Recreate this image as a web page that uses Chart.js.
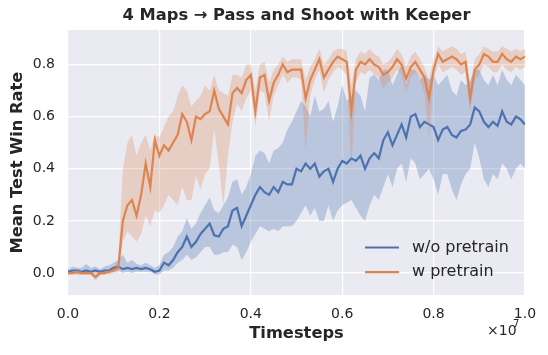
<!DOCTYPE html>
<html>
<head>
<meta charset="utf-8">
<script src="https://cdn.jsdelivr.net/npm/chart.js@4.4.1/dist/chart.umd.min.js"></script>
<style>
  html, body { margin: 0; padding: 0; background: #fff; }
  #wrap { width: 548px; height: 355px; position: relative; }
</style>
</head>
<body>
<div id="wrap"><canvas id="winRateChart" width="548" height="355"></canvas></div>
<script>
// timesteps in units of 1e7
const timesteps = [
  0.00, 0.01, 0.02, 0.03, 0.04, 0.05, 0.06, 0.07, 0.08, 0.09,
  0.10, 0.11, 0.12, 0.13, 0.14, 0.15, 0.16, 0.17, 0.18, 0.19,
  0.20, 0.21, 0.22, 0.23, 0.24, 0.25, 0.26, 0.27, 0.28, 0.29,
  0.30, 0.31, 0.32, 0.33, 0.34, 0.35, 0.36, 0.37, 0.38, 0.39,
  0.40, 0.41, 0.42, 0.43, 0.44, 0.45, 0.46, 0.47, 0.48, 0.49,
  0.50, 0.51, 0.52, 0.53, 0.54, 0.55, 0.56, 0.57, 0.58, 0.59,
  0.60, 0.61, 0.62, 0.63, 0.64, 0.65, 0.66, 0.67, 0.68, 0.69,
  0.70, 0.71, 0.72, 0.73, 0.74, 0.75, 0.76, 0.77, 0.78, 0.79,
  0.80, 0.81, 0.82, 0.83, 0.84, 0.85, 0.86, 0.87, 0.88, 0.89,
  0.90, 0.91, 0.92, 0.93, 0.94, 0.95, 0.96, 0.97, 0.98, 0.99,
  1.00
];

// w/o pretrain (blue)
const noPretrainMean = [
  0.005, 0.010, 0.010, 0.005, 0.010, 0.005, 0.010, 0.005, 0.010, 0.010,
  0.020, 0.025, 0.015, 0.020, 0.015, 0.020, 0.015, 0.020, 0.015, 0.005,
  0.010, 0.040, 0.030, 0.050, 0.080, 0.100, 0.140, 0.100, 0.120, 0.150,
  0.170, 0.190, 0.145, 0.140, 0.170, 0.180, 0.240, 0.250, 0.180, 0.220,
  0.260, 0.300, 0.330, 0.310, 0.300, 0.330, 0.310, 0.350, 0.340, 0.340,
  0.400, 0.390, 0.420, 0.400, 0.420, 0.370, 0.390, 0.400, 0.350, 0.400,
  0.430, 0.420, 0.440, 0.430, 0.450, 0.400, 0.440, 0.460, 0.440, 0.510,
  0.540, 0.490, 0.530, 0.570, 0.520, 0.600, 0.610, 0.560, 0.580, 0.570,
  0.560, 0.510, 0.550, 0.560, 0.530, 0.520, 0.545, 0.550, 0.570, 0.635,
  0.620, 0.580, 0.560, 0.580, 0.565, 0.620, 0.580, 0.570, 0.600, 0.590,
  0.570
];
const noPretrainLow = [
  -0.005, 0.000, -0.005, -0.005, -0.005, -0.005, 0.000, -0.005, 0.000, 0.000,
  0.005, 0.010, 0.000, 0.005, 0.000, 0.005, 0.005, 0.005, 0.005, -0.005,
  -0.005, 0.010, 0.010, 0.020, 0.040, 0.050, 0.070, 0.050, 0.060, 0.080,
  0.100, 0.100, 0.070, 0.070, 0.080, 0.080, 0.110, 0.100, 0.050, 0.080,
  0.120, 0.150, 0.180, 0.170, 0.160, 0.170, 0.160, 0.180, 0.180, 0.180,
  0.200, 0.230, 0.260, 0.220, 0.250, 0.200, 0.200, 0.260, 0.200, 0.240,
  0.260, 0.270, 0.280, 0.250, 0.220, 0.200, 0.260, 0.300, 0.280, 0.330,
  0.380, 0.330, 0.400, 0.420, 0.350, 0.440, 0.420, 0.360, 0.380, 0.400,
  0.360, 0.300, 0.380, 0.380, 0.320, 0.280, 0.340, 0.380, 0.400, 0.500,
  0.440, 0.360, 0.330, 0.380, 0.360, 0.420, 0.400, 0.360, 0.400, 0.420,
  0.400
];
const noPretrainHigh = [
  0.015, 0.025, 0.020, 0.020, 0.035, 0.020, 0.025, 0.015, 0.025, 0.030,
  0.040, 0.050, 0.070, 0.040, 0.050, 0.035, 0.030, 0.040, 0.030, 0.020,
  0.030, 0.070, 0.080, 0.100, 0.140, 0.160, 0.210, 0.170, 0.190, 0.230,
  0.260, 0.290, 0.240, 0.230, 0.260, 0.290, 0.350, 0.360, 0.300, 0.330,
  0.380, 0.450, 0.470, 0.460, 0.420, 0.470, 0.480, 0.500, 0.550, 0.580,
  0.620, 0.660, 0.640, 0.600, 0.680, 0.620, 0.630, 0.660, 0.580, 0.640,
  0.720, 0.660, 0.680, 0.700, 0.680, 0.620, 0.750, 0.760, 0.740, 0.780,
  0.780, 0.720, 0.760, 0.800, 0.720, 0.780, 0.780, 0.740, 0.760, 0.740,
  0.760, 0.720, 0.740, 0.760, 0.700, 0.680, 0.740, 0.720, 0.740, 0.780,
  0.780, 0.740, 0.720, 0.760, 0.720, 0.780, 0.740, 0.720, 0.760, 0.740,
  0.720
];

// w pretrain (orange)
const pretrainMean = [
  0.000, 0.000, 0.005, 0.000, 0.000, 0.000, -0.015, 0.000, 0.000, 0.005,
  0.010, 0.020, 0.200, 0.260, 0.280, 0.220, 0.300, 0.420, 0.330, 0.510,
  0.450, 0.490, 0.470, 0.500, 0.530, 0.610, 0.580, 0.510, 0.600, 0.590,
  0.610, 0.620, 0.700, 0.630, 0.600, 0.570, 0.690, 0.710, 0.690, 0.740,
  0.760, 0.620, 0.750, 0.760, 0.660, 0.730, 0.760, 0.800, 0.770, 0.780,
  0.780, 0.780, 0.670, 0.740, 0.780, 0.820, 0.750, 0.780, 0.810, 0.830,
  0.820, 0.810, 0.620, 0.780, 0.810, 0.800, 0.820, 0.800, 0.790, 0.760,
  0.770, 0.790, 0.820, 0.800, 0.745, 0.790, 0.810, 0.780, 0.750, 0.670,
  0.780, 0.840, 0.810, 0.820, 0.830, 0.820, 0.800, 0.810, 0.670, 0.780,
  0.800, 0.840, 0.830, 0.810, 0.810, 0.840, 0.820, 0.810, 0.830, 0.820,
  0.830
];
const pretrainLow = [
  -0.005, -0.005, -0.005, -0.005, -0.005, -0.005, -0.030, -0.010, -0.005, -0.005,
  0.000, 0.000, 0.120, 0.160, 0.140, 0.120, 0.150, 0.220, 0.180, 0.240,
  0.230, 0.260, 0.300, 0.280, 0.260, 0.330, 0.280, 0.280, 0.370, 0.320,
  0.380, 0.400, 0.550, 0.420, 0.260, 0.450, 0.580, 0.650, 0.620, 0.670,
  0.700, 0.560, 0.700, 0.690, 0.580, 0.680, 0.720, 0.760, 0.730, 0.750,
  0.750, 0.740, 0.470, 0.680, 0.740, 0.780, 0.690, 0.740, 0.770, 0.790,
  0.780, 0.760, 0.400, 0.730, 0.770, 0.760, 0.780, 0.760, 0.750, 0.710,
  0.730, 0.750, 0.780, 0.760, 0.690, 0.750, 0.770, 0.740, 0.690, 0.520,
  0.740, 0.800, 0.770, 0.780, 0.790, 0.780, 0.760, 0.770, 0.620, 0.740,
  0.760, 0.800, 0.790, 0.770, 0.770, 0.800, 0.780, 0.770, 0.790, 0.780,
  0.790
];
const pretrainHigh = [
  0.005, 0.005, 0.010, 0.005, 0.005, 0.005, 0.000, 0.005, 0.005, 0.010,
  0.020, 0.050, 0.400, 0.500, 0.530, 0.450, 0.500, 0.530, 0.470, 0.530,
  0.520, 0.560, 0.600, 0.620, 0.680, 0.720, 0.700, 0.640, 0.660, 0.680,
  0.720, 0.700, 0.760, 0.700, 0.690, 0.680, 0.760, 0.760, 0.750, 0.800,
  0.800, 0.700, 0.800, 0.810, 0.730, 0.780, 0.800, 0.830, 0.810, 0.820,
  0.820, 0.820, 0.740, 0.790, 0.820, 0.860, 0.800, 0.820, 0.850, 0.860,
  0.860, 0.850, 0.720, 0.820, 0.850, 0.840, 0.860, 0.840, 0.830, 0.800,
  0.810, 0.830, 0.860, 0.840, 0.790, 0.830, 0.850, 0.820, 0.790, 0.740,
  0.820, 0.870, 0.850, 0.860, 0.870, 0.860, 0.840, 0.850, 0.720, 0.820,
  0.840, 0.870, 0.860, 0.850, 0.850, 0.870, 0.860, 0.850, 0.860, 0.850,
  0.860
];

const xTicks = [0, 0.2, 0.4, 0.6, 0.8, 1.0];
const yTicks = [0, 0.2, 0.4, 0.6, 0.8];

const BLUE = '#4C72B0', ORANGE = '#DD8452';
const TEXT = '#262626';
const FONT = "'DejaVu Sans', sans-serif";

const pts = arr => arr.map((v, i) => ({ x: timesteps[i], y: v }));

const bandStyle = (color, order) => ({
  borderWidth: 0, pointRadius: 0, backgroundColor: color, order: order
});

const decor = {
  id: 'decor',
  beforeDraw(chart) {
    const { ctx, chartArea: a } = chart;
    ctx.save();
    ctx.fillStyle = '#EAEAF2';
    ctx.fillRect(a.left, a.top, a.right - a.left, a.bottom - a.top);
    ctx.restore();
  },
  afterDraw(chart) {
    const { ctx, chartArea: a } = chart;
    ctx.save();
    ctx.fillStyle = TEXT;
    // title
    ctx.font = `bold 16.3px ${FONT}`;
    ctx.textAlign = 'center';
    ctx.textBaseline = 'middle';
    ctx.fillText('4 Maps \u2192 Pass and Shoot with Keeper', (a.left + a.right) / 2, 16);
    // offset text
    ctx.textAlign = 'left';
    ctx.font = `14px ${FONT}`;
    ctx.fillText('\u00d710', 487, 331);
    ctx.font = `10px ${FONT}`;
    ctx.fillText('7', 513, 324);
    // legend
    const items = [['w/o pretrain', BLUE], ['w pretrain', ORANGE]];
    ctx.font = `16px ${FONT}`;
    items.forEach(([label, color], i) => {
      const y = 247.5 + i * 24.7;
      ctx.strokeStyle = color;
      ctx.lineWidth = 2.2;
      ctx.beginPath();
      ctx.moveTo(365, y);
      ctx.lineTo(399, y);
      ctx.stroke();
      ctx.fillText(label, 412, y);
    });
    ctx.restore();
  }
};

new Chart(document.getElementById('winRateChart'), {
  type: 'line',
  data: {
    datasets: [
      { label: 'blo', data: pts(noPretrainLow), fill: false, ...bandStyle('rgba(76,114,176,0.3)', 6) },
      { label: 'bhi', data: pts(noPretrainHigh), fill: '-1', ...bandStyle('rgba(76,114,176,0.3)', 6) },
      { label: 'w/o pretrain', data: pts(noPretrainMean), borderColor: BLUE, borderWidth: 2.2, pointRadius: 0, fill: false, order: 4 },
      { label: 'olo', data: pts(pretrainLow), fill: false, ...bandStyle('rgba(221,132,82,0.28)', 2) },
      { label: 'ohi', data: pts(pretrainHigh), fill: '-1', ...bandStyle('rgba(221,132,82,0.28)', 2) },
      { label: 'w pretrain', data: pts(pretrainMean), borderColor: ORANGE, borderWidth: 2.2, pointRadius: 0, fill: false, order: 1 }
    ]
  },
  options: {
    responsive: false,
    animation: false,
    layout: { padding: { top: 30, right: 23, left: 0, bottom: 11 } },
    plugins: { legend: { display: false }, tooltip: { enabled: false }, title: { display: false } },
    scales: {
      x: {
        type: 'linear', min: 0, max: 1,
        afterBuildTicks: s => { s.ticks = xTicks.map(v => ({ value: v })); },
        afterFit: s => { s.height = 49; },
        ticks: { color: TEXT, font: { family: FONT, size: 14 }, padding: 11, maxRotation: 0, callback: v => v.toFixed(1) },
        grid: { color: '#ffffff', lineWidth: 1.2, drawTicks: false },
        border: { display: false },
        title: { display: true, text: 'Timesteps', color: TEXT, font: { family: FONT, size: 16.3, weight: 'bold' }, padding: { top: 0, bottom: 0 } }
      },
      y: {
        min: -0.084, max: 0.932,
        afterBuildTicks: s => { s.ticks = yTicks.map(v => ({ value: v })); },
        afterFit: s => { s.width = 68; },
        ticks: { color: TEXT, font: { family: FONT, size: 14 }, padding: 13, callback: v => v.toFixed(1) },
        grid: { color: '#ffffff', lineWidth: 1.2, drawTicks: false },
        border: { display: false },
        title: { display: true, text: 'Mean Test Win Rate', color: TEXT, font: { family: FONT, size: 16.3, weight: 'bold' }, padding: { top: 8, bottom: 0 } }
      }
    }
  },
  plugins: [decor]
});
</script>
</body>
</html>
